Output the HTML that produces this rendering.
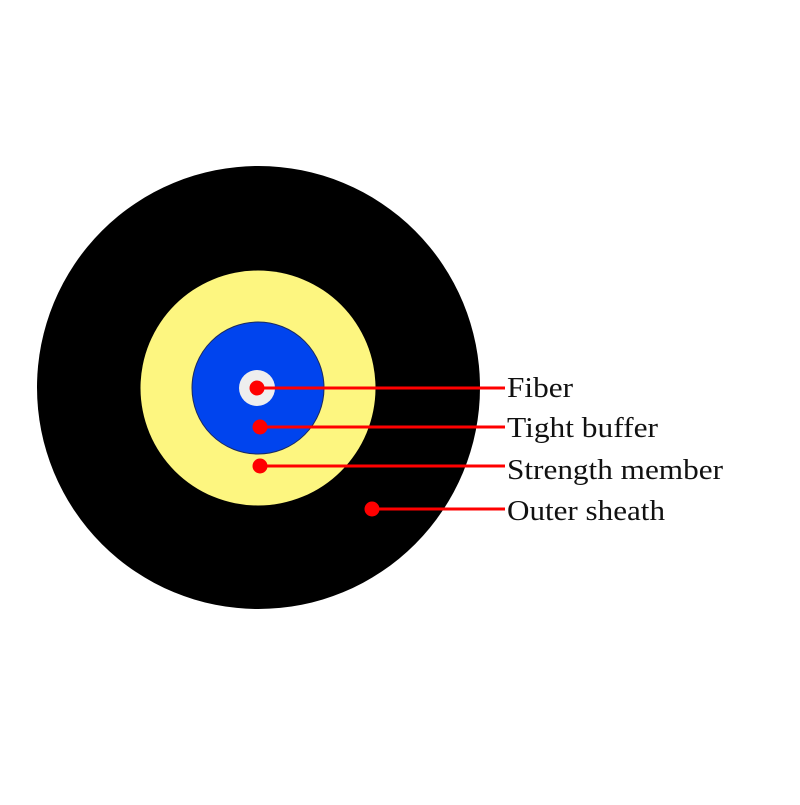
<!DOCTYPE html>
<html><head><style>body{margin:0;background:#fff}</style></head><body>
<svg width="800" height="800" viewBox="0 0 800 800" xmlns="http://www.w3.org/2000/svg">
<rect width="800" height="800" fill="#fff"/>
<circle cx="258.5" cy="387.5" r="221.5" fill="#000"/>
<circle cx="258" cy="388" r="117.5" fill="#fdf680"/>
<circle cx="258" cy="388" r="66" fill="#0044ee" stroke="#1a2a60" stroke-width="1"/>
<circle cx="257" cy="388" r="18" fill="#eeeeee"/>
<g stroke="#ff0000" stroke-width="3">
<line x1="257" y1="388" x2="505" y2="388"/>
<line x1="260" y1="427" x2="505" y2="427"/>
<line x1="260" y1="466" x2="505" y2="466"/>
<line x1="372" y1="509" x2="505" y2="509"/>
</g>
<g fill="#ff0000">
<circle cx="257" cy="388" r="7.5"/>
<circle cx="260" cy="427" r="7.5"/>
<circle cx="260" cy="466" r="7.5"/>
<circle cx="372" cy="509" r="7.5"/>
</g>
<g font-family="Liberation Serif, serif" font-size="29" fill="#111" lengthAdjust="spacingAndGlyphs">
<text x="507" y="397" textLength="66" lengthAdjust="spacingAndGlyphs">Fiber</text>
<text x="507" y="437" textLength="151" lengthAdjust="spacingAndGlyphs">Tight buffer</text>
<text x="507" y="479" textLength="216" lengthAdjust="spacingAndGlyphs">Strength member</text>
<text x="507" y="520" textLength="158" lengthAdjust="spacingAndGlyphs">Outer sheath</text>
</g>
</svg>
</body></html>
